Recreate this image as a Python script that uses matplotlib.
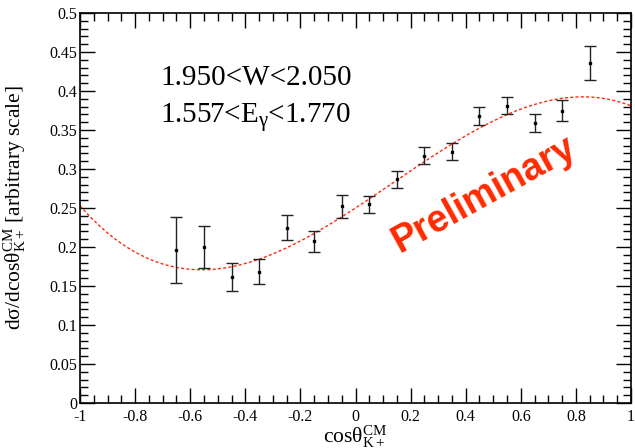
import numpy as np
import matplotlib.pyplot as plt
from matplotlib.ticker import MultipleLocator, FuncFormatter

plt.rcParams['font.family'] = ['Liberation Serif', 'DejaVu Serif']
plt.rcParams['mathtext.fontset'] = 'custom'
plt.rcParams['mathtext.rm'] = 'Liberation Serif'
plt.rcParams['mathtext.it'] = 'Liberation Serif:italic'

# measured cross section (arbitrary scale)
cos_theta = [-0.65, -0.55, -0.45, -0.35, -0.25, -0.15, -0.05, 0.05,
             0.15, 0.25, 0.35, 0.45, 0.55, 0.65, 0.75, 0.85]
dsigma = [0.196, 0.200, 0.1615, 0.1685, 0.225, 0.2075, 0.252, 0.255,
          0.287, 0.317, 0.322, 0.368, 0.381, 0.3585, 0.3745, 0.436]
dsigma_err = [0.042, 0.027, 0.0185, 0.0155, 0.016, 0.0135, 0.015, 0.011,
              0.011, 0.011, 0.011, 0.012, 0.011, 0.0115, 0.0135, 0.022]

# cubic fit, highest order first
fit_coef = [-0.1674, 0.067, 0.2314, 0.25]

w_label = '1.950<W<2.050'
e_label = r'1.557<E$_{\mathrm{\gamma}}$<1.770'

fig = plt.figure(figsize=(6.35, 4.48), dpi=100)
ax = fig.add_axes([0.126, 0.1004, 0.8677, 0.8706])

xf = np.linspace(-1, 1, 300)
ax.plot(xf, np.polyval(fit_coef, xf), color='#ff2a10', lw=1.0,
        linestyle=(0, (2.2, 1.6)))

ax.errorbar(cos_theta, dsigma, yerr=dsigma_err, fmt='s', ms=2, color='black',
            ecolor='#222222', elinewidth=1.0, capsize=4.5, capthick=1.0)

ax.set_xlim(-1, 1)
ax.set_ylim(0, 0.5)
ax.xaxis.set_major_locator(MultipleLocator(0.2))
ax.xaxis.set_minor_locator(MultipleLocator(0.05))
ax.yaxis.set_major_locator(MultipleLocator(0.05))
ax.yaxis.set_minor_locator(MultipleLocator(0.01))
fmt = FuncFormatter(lambda v, p: '%g' % round(v, 3))
ax.xaxis.set_major_formatter(fmt)
ax.yaxis.set_major_formatter(fmt)
ax.tick_params(which='both', direction='in', top=True, right=True,
               labelsize=11.5, width=1.0, colors='black')
ax.tick_params(which='major', length=11)
ax.tick_params(which='minor', length=5.5)
ax.tick_params(axis='x', pad=4)
ax.tick_params(axis='y', pad=2)
for s in ax.spines.values():
    s.set_linewidth(1.2)

ax.set_xlabel(r'cos$\mathrm{\theta^{CM}_{K+}}$', fontsize=15.5)
ax.xaxis.set_label_coords(0.5, -0.085, transform=ax.transAxes)
ax.xaxis.label.set_va('center')
ax.set_ylabel(r'd$\mathrm{\sigma}$/dcos$\mathrm{\theta^{CM}_{K+}}$ [arbitrary scale]',
              fontsize=15.5, labelpad=4)
ax.yaxis.set_label_coords(-0.095, 0.5)

ax.text(-0.709, 0.4077, w_label, fontsize=21, ha='left', va='baseline')
ax.text(-0.709, 0.3594, e_label, fontsize=21, ha='left', va='baseline')

ax.text(0.465, 0.267, 'Preliminary', family='Liberation Sans', weight='bold',
        fontsize=27, color='#ff2a00', rotation=29, rotation_mode='anchor',
        ha='center', va='center')

fig.savefig('out.png', dpi=100)
